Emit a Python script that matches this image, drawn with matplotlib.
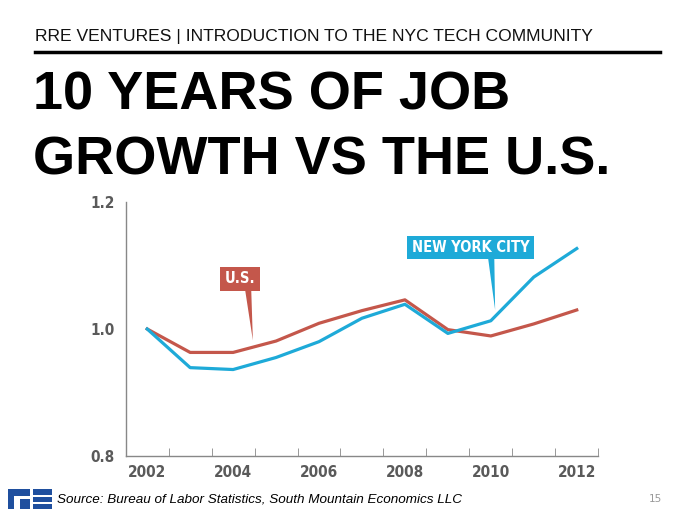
import matplotlib.pyplot as plt
from matplotlib.patches import Polygon, Rectangle
from matplotlib.ticker import FixedLocator

years = [2002, 2003, 2004, 2005, 2006, 2007, 2008, 2009, 2010, 2011, 2012]
nyc = [1.000, 0.939, 0.936, 0.955, 0.980, 1.017, 1.039, 0.993, 1.013, 1.082, 1.127]
us = [1.000, 0.963, 0.963, 0.981, 1.009, 1.029, 1.046, 0.999, 0.989, 1.008, 1.030]
xtick_labels = ['2002', '2004', '2006', '2008', '2010', '2012']
ytick_labels = ['0.8', '1.0', '1.2']

RED = '#c4574b'
BLUE = '#1eaad8'
GRAY = '#5a5a5a'

fig = plt.figure(figsize=(7, 5.25), dpi=100)
fig.patch.set_facecolor('white')

# header
fig.text(35 / 700, 1 - 37 / 525, 'RRE VENTURES | INTRODUCTION TO THE NYC TECH COMMUNITY',
         fontsize=12.6, family='Liberation Sans', va='center', ha='left', color='#111111')
fig.add_artist(plt.Line2D([35 / 700, 660 / 700], [1 - 52 / 525] * 2, color='black', lw=2.5))

# title
fig.text(33 / 700, 1 - 110 / 525, '10 YEARS OF JOB', fontsize=39, fontweight='bold',
         family='Liberation Sans', va='baseline', ha='left')
fig.text(33 / 700, 1 - 175 / 525, 'GROWTH VS THE U.S.', fontsize=39, fontweight='bold',
         family='Liberation Sans', va='baseline', ha='left')

ax = fig.add_axes([0.1796, 0.132, 0.675, 0.4827])
ax.plot(years, us, color=RED, lw=2.3, zorder=3)
ax.plot(years, nyc, color=BLUE, lw=2.3, zorder=3)

ax.set_xlim(2001.5, 2012.5)
ax.set_ylim(0.8, 1.2)
for s in ['top', 'right']:
    ax.spines[s].set_visible(False)
for s in ['left', 'bottom']:
    ax.spines[s].set_color('#888888')
    ax.spines[s].set_linewidth(1)

ax.set_xticks([int(t) for t in xtick_labels])
ax.set_xticklabels(xtick_labels)
ax.xaxis.set_minor_locator(FixedLocator([y + 0.5 for y in years]))
ax.tick_params(axis='x', which='major', length=0, pad=7, labelsize=11, labelcolor=GRAY)
ax.tick_params(axis='x', which='minor', direction='in', length=6, color='#888888')
ax.set_yticks([float(t) for t in ytick_labels])
ax.set_yticklabels(ytick_labels)
ax.yaxis.set_minor_locator(FixedLocator([1.2]))
ax.tick_params(axis='y', which='major', length=0, pad=8, labelsize=11, labelcolor=GRAY)
ax.tick_params(axis='y', which='minor', direction='in', length=11, color='#888888')
for lab in ax.get_xticklabels() + ax.get_yticklabels():
    lab.set_fontweight('bold')
    lab.set_family('DejaVu Sans')
    lab.set_fontstretch('condensed')

# callouts
ax.add_patch(Polygon([[2004.27, 1.066], [2004.42, 1.066], [2004.46, 0.982]],
                     closed=True, color=RED, zorder=4, lw=0))
ax.text(2004.16, 1.079, 'U.S.', color='white', fontsize=10.5, fontweight='bold',
        fontstretch='condensed', ha='center', va='center', zorder=5,
        bbox=dict(boxstyle='square,pad=0.3', fc=RED, ec='none'))
ax.add_patch(Polygon([[2009.93, 1.115], [2010.08, 1.115], [2010.10, 1.03]],
                     closed=True, color=BLUE, zorder=4, lw=0))
ax.text(2009.525, 1.1286, 'NEW YORK CITY', color='white', fontsize=10.5, fontweight='bold',
        fontstretch='condensed', ha='center', va='center', zorder=5,
        bbox=dict(boxstyle='square,pad=0.3', fc=BLUE, ec='none'))

# footer logo
logo = '#1f4f9e'
for (x0, y0, w, h) in [(8, 489, 6, 20), (8, 489, 22, 7), (20, 499, 10, 10),
                       (33, 489, 19, 6), (33, 497, 19, 5), (33, 504, 19, 5)]:
    fig.add_artist(Rectangle((x0 / 700, 1 - (y0 + h) / 525), w / 700, h / 525,
                             transform=fig.transFigure, color=logo, lw=0))
fig.text(57 / 700, 1 - 499 / 525, 'Source: Bureau of Labor Statistics, South Mountain Economics LLC',
         fontsize=9.7, style='italic', family='Liberation Sans', va='center', ha='left')
fig.text(655 / 700, 1 - 499 / 525, '15', fontsize=7.5, color='#999999', va='center', ha='center')

fig.savefig('out.png', dpi=100)
